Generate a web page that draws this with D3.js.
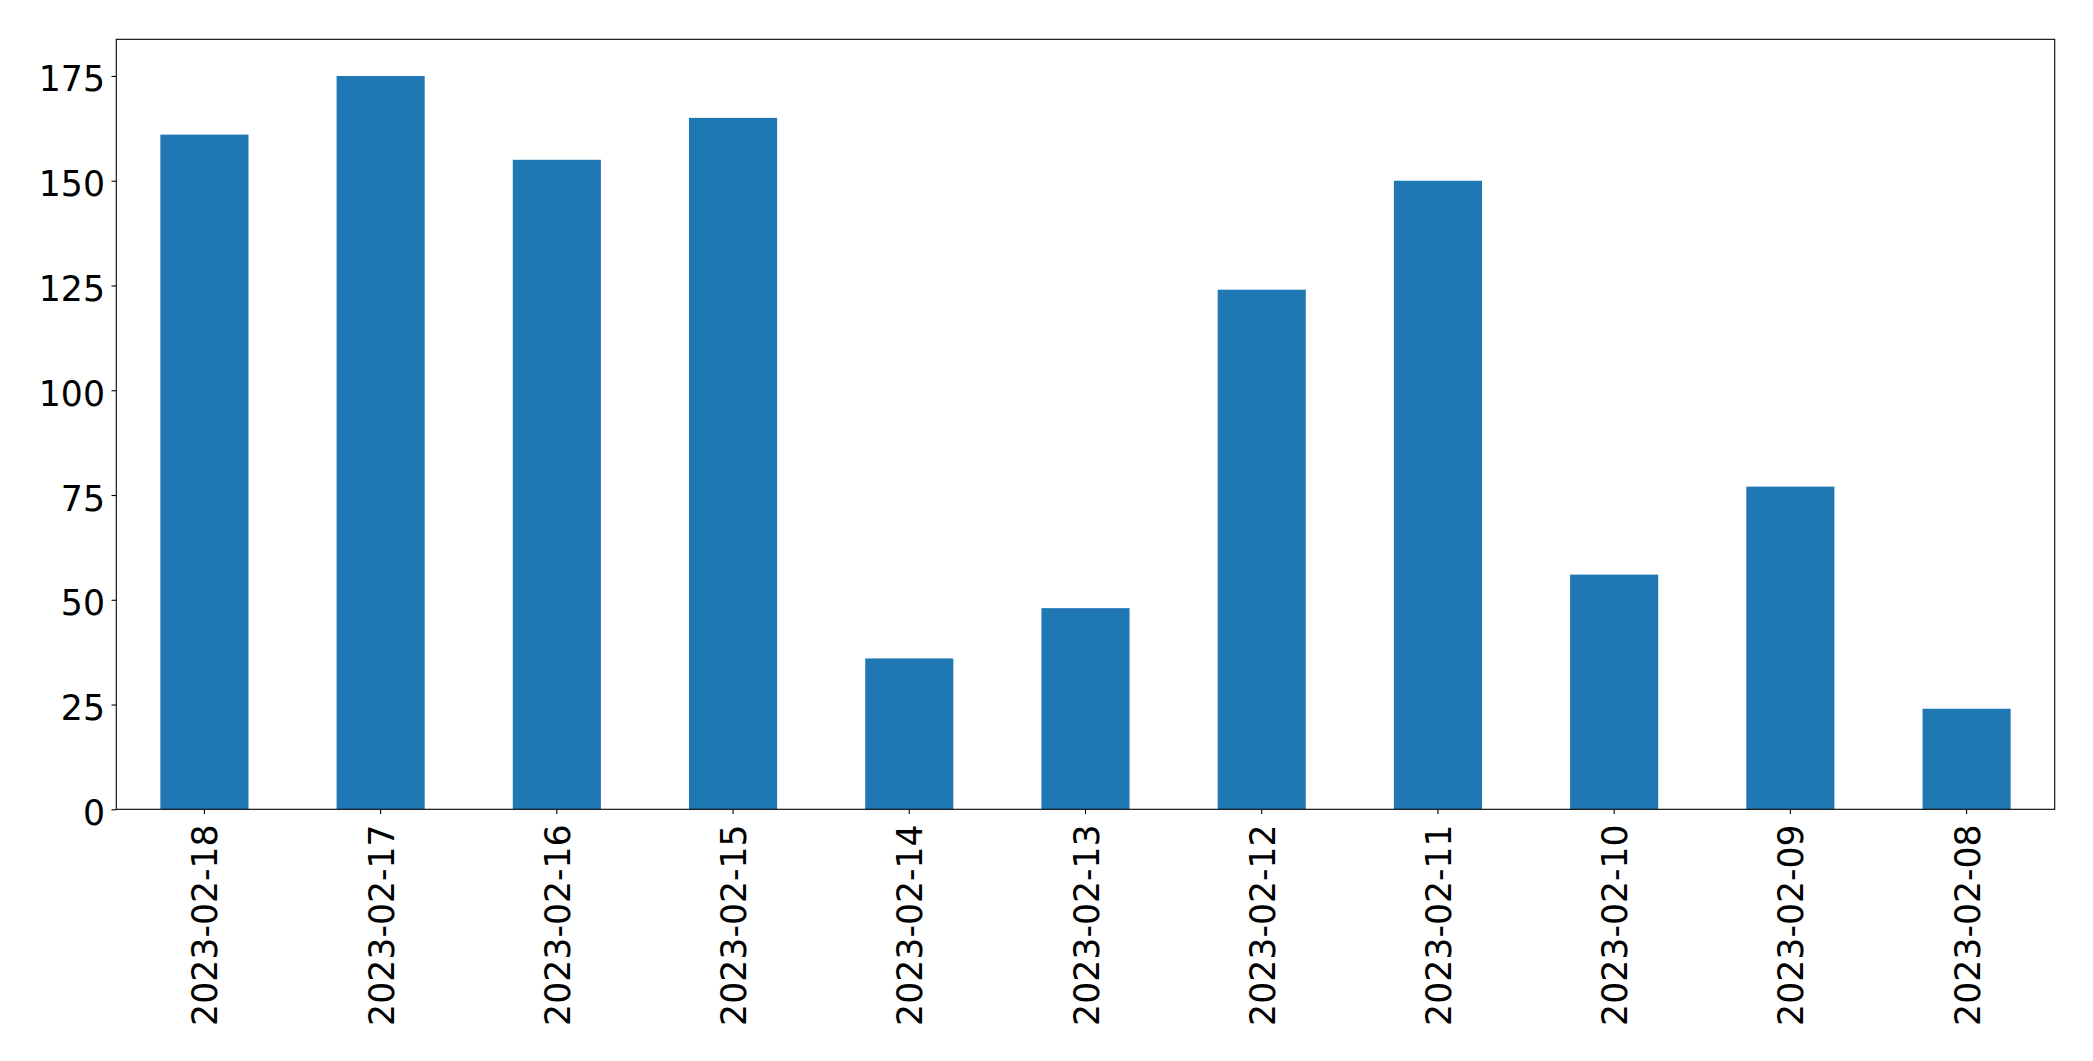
<!DOCTYPE html>
<html>
<head>
<meta charset="utf-8">
<script src="https://cdn.jsdelivr.net/npm/d3@7"></script>
<style>
  html, body { margin: 0; padding: 0; background: #fff; }
  svg { display: block; }
</style>
</head>
<body>
<svg id="chart" width="2093" height="1061"></svg>
<script>
const categories = ["2023-02-18","2023-02-17","2023-02-16","2023-02-15","2023-02-14","2023-02-13","2023-02-12","2023-02-11","2023-02-10","2023-02-09","2023-02-08"];
const values = [161, 175, 155, 165, 36, 48, 124, 150, 56, 77, 24];
const yTicks = [0, 25, 50, 75, 100, 125, 150, 175];

(function () {
const svg = d3.select("#chart");
const pLeft = 116.3, pRight = 2054.7, pTop = 39.3, pBottom = 809.3;
const fontSize = 34.7;
const font = "DejaVu Sans, sans-serif";

const x = d3.scaleBand().domain(categories).range([pLeft, pRight]).paddingInner(0.5).paddingOuter(0.25);
const y = d3.scaleLinear().domain([0, d3.max(values) * 1.05]).range([pBottom, pTop]);

// bars
svg.append("g").selectAll("rect").data(values).join("rect")
  .attr("x", (d, i) => x(categories[i]))
  .attr("width", x.bandwidth())
  .attr("y", d => y(d))
  .attr("height", d => y(0) - y(d))
  .attr("fill", "#1f77b4");

// y axis
const yAxis = svg.append("g").attr("transform", `translate(${pLeft},0)`)
  .call(d3.axisLeft(y).tickValues(yTicks).tickSize(4.8).tickPadding(6.5).tickFormat(d3.format("d")));
yAxis.select(".domain").remove();
yAxis.selectAll(".tick line").attr("stroke", "#000").attr("stroke-width", 1.1);
yAxis.selectAll(".tick text")
  .attr("font-family", font).attr("font-size", fontSize).attr("fill", "#000")
  .attr("dy", null).attr("y", 15).attr("dominant-baseline", "alphabetic");

// x axis
const xAxis = svg.append("g").attr("transform", `translate(0,${pBottom})`)
  .call(d3.axisBottom(x).tickSize(4.8));
xAxis.select(".domain").remove();
xAxis.selectAll(".tick line").attr("stroke", "#000").attr("stroke-width", 1.1);
xAxis.selectAll(".tick text")
  .attr("font-family", font).attr("font-size", fontSize).attr("fill", "#000")
  .attr("dy", null).attr("y", null)
  .attr("text-anchor", "end")
  .attr("dominant-baseline", "alphabetic")
  .attr("transform", "translate(13,15) rotate(-90)");

// frame
svg.append("rect")
  .attr("x", pLeft).attr("y", pTop)
  .attr("width", pRight - pLeft).attr("height", pBottom - pTop)
  .attr("fill", "none").attr("stroke", "#000").attr("stroke-width", 1.1);
})();
</script>
</body>
</html>
